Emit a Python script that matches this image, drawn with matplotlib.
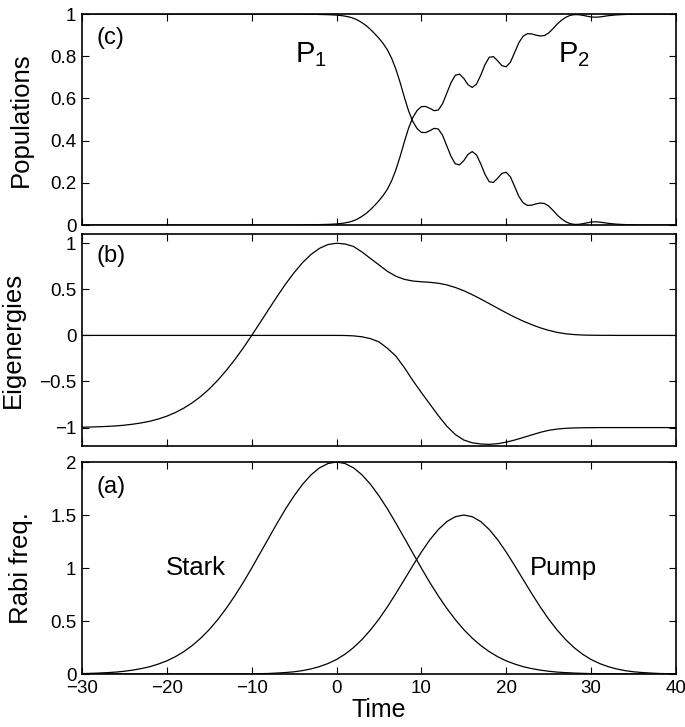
import numpy as np
import matplotlib
matplotlib.use("Agg")
import matplotlib.pyplot as plt
from matplotlib.ticker import FuncFormatter

plt.rcParams["font.family"] = ["Liberation Sans", "DejaVu Sans"]
plt.rcParams["mathtext.default"] = "regular"

# =====================================================
# DATA
# =====================================================

time = list(range(-30, 41))

stark = [0.004, 0.006, 0.009, 0.013, 0.018, 0.026, 0.037, 0.051, 0.069, 0.094,
         0.124, 0.163, 0.211, 0.269, 0.338, 0.419, 0.513, 0.619, 0.736, 0.863,
         0.999, 1.140, 1.282, 1.423, 1.558, 1.681, 1.790, 1.879, 1.945, 1.986,
         2.000,
         1.986, 1.945, 1.879, 1.790, 1.681, 1.558, 1.423, 1.282, 1.140, 0.999,
         0.863, 0.736, 0.619, 0.513, 0.419, 0.338, 0.269, 0.211, 0.163, 0.124,
         0.094, 0.069, 0.051, 0.037, 0.026, 0.018, 0.013, 0.009, 0.006, 0.004,
         0.003, 0.002, 0.001, 0.001, 0.0, 0.0, 0.0, 0.0, 0.0, 0.0]

pump = [0.0, 0.0, 0.0, 0.0, 0.0, 0.0, 0.0, 0.0, 0.0, 0.0,
        0.0, 0.0, 0.0, 0.0, 0.0, 0.0, 0.0, 0.0, 0.0, 0.001,
        0.002, 0.003, 0.005, 0.009, 0.014, 0.021, 0.032, 0.048, 0.070, 0.099,
        0.137,
        0.187, 0.249, 0.325, 0.415, 0.518, 0.634, 0.760, 0.891, 1.023, 1.150,
        1.266, 1.363, 1.438, 1.484, 1.500, 1.484, 1.438, 1.363, 1.266, 1.150,
        1.023, 0.891, 0.760, 0.634, 0.518, 0.415, 0.325, 0.249, 0.187, 0.137,
        0.099, 0.070, 0.048, 0.032, 0.021, 0.014, 0.009, 0.005, 0.003, 0.002]

e_upper = [-0.996, -0.994, -0.991, -0.987, -0.982, -0.974, -0.963, -0.949, -0.931, -0.907,
           -0.876, -0.837, -0.789, -0.731, -0.662, -0.581, -0.487, -0.381, -0.264, -0.137,
           -0.001, 0.140, 0.282, 0.423, 0.558, 0.681, 0.790, 0.879, 0.945, 0.986,
           1.000,
           0.992, 0.965, 0.905, 0.835, 0.765, 0.695, 0.642, 0.608, 0.590, 0.582,
           0.576, 0.566, 0.548, 0.520, 0.485, 0.442, 0.395, 0.345, 0.295, 0.245,
           0.198, 0.155, 0.117, 0.083, 0.055, 0.033, 0.018, 0.009, 0.004, 0.002,
           0.001, 0.001, 0.0, 0.0, 0.0, 0.0, 0.0, 0.0, 0.0, 0.0]

e_lower = [0.0, 0.0, 0.0, 0.0, 0.0, 0.0, 0.0, 0.0, 0.0, 0.0,
           0.0, 0.0, 0.0, 0.0, 0.0, 0.0, 0.0, 0.0, 0.0, 0.0,
           0.0, 0.0, 0.0, 0.0, 0.0, 0.0, 0.0, 0.0, 0.0, 0.0,
           0.0,
           -0.001, -0.005, -0.015, -0.035, -0.070, -0.140, -0.225, -0.350, -0.490, -0.620,
           -0.745, -0.870, -0.985, -1.075, -1.135, -1.165, -1.178, -1.182, -1.175, -1.158,
           -1.135, -1.108, -1.080, -1.052, -1.030, -1.016, -1.008, -1.004, -1.002, -1.001,
           -1.0, -1.0, -1.0, -1.0, -1.0, -1.0, -1.0, -1.0, -1.0, -1.0]

time_pop = [-30, -20, -10, -5, -3, -2, -1,
            0, 0.5, 1, 1.5, 2, 2.5, 3, 3.5, 4, 4.5, 5, 5.5, 6, 6.5, 7, 7.5,
            8, 8.5, 9, 9.5, 10, 10.5, 11, 11.5, 12, 12.5, 13, 13.5, 14, 14.5,
            15, 15.5, 16, 16.5, 17, 17.5, 18, 18.5, 19, 19.5, 20, 20.5, 21, 21.5,
            22, 22.5, 23, 23.5, 24, 24.5, 25, 25.5, 26, 26.5, 27, 27.5, 28, 28.5,
            29, 29.5, 30, 30.5, 31, 31.5, 32, 33, 34, 35, 36, 38, 40]

pop_1 = [1.0, 1.0, 1.0, 1.0, 0.999, 0.998, 0.997,
         0.995, 0.993, 0.990, 0.986, 0.980, 0.971, 0.959, 0.945, 0.927, 0.907, 0.885, 0.860, 0.830, 0.790, 0.738, 0.675,
         0.605, 0.540, 0.490, 0.457, 0.439, 0.438, 0.447, 0.458, 0.455, 0.425, 0.375, 0.325, 0.290, 0.285,
         0.305, 0.335, 0.348, 0.332, 0.290, 0.240, 0.205, 0.202, 0.222, 0.245, 0.250, 0.228, 0.182, 0.135,
         0.105, 0.093, 0.094, 0.100, 0.104, 0.102, 0.090, 0.070, 0.048, 0.030, 0.016, 0.007, 0.003, 0.003,
         0.006, 0.010, 0.014, 0.015, 0.014, 0.011, 0.008, 0.004, 0.002, 0.001, 0.0, 0.0, 0.0]

pop_2 = [0.0, 0.0, 0.0, 0.0, 0.001, 0.002, 0.003,
         0.005, 0.007, 0.010, 0.014, 0.020, 0.029, 0.041, 0.055, 0.073, 0.093, 0.115, 0.140, 0.170, 0.210, 0.262, 0.325,
         0.395, 0.460, 0.510, 0.543, 0.561, 0.562, 0.553, 0.542, 0.545, 0.575, 0.625, 0.675, 0.710, 0.715,
         0.695, 0.665, 0.652, 0.668, 0.710, 0.760, 0.795, 0.798, 0.778, 0.755, 0.750, 0.772, 0.818, 0.865,
         0.895, 0.907, 0.906, 0.900, 0.896, 0.898, 0.910, 0.930, 0.952, 0.970, 0.984, 0.993, 0.997, 0.997,
         0.994, 0.990, 0.986, 0.985, 0.986, 0.989, 0.992, 0.996, 0.998, 0.999, 1.0, 1.0, 1.0]

x_ticks = [-30, -20, -10, 0, 10, 20, 30, 40]

# =====================================================
# FIGURE
# =====================================================

fig = plt.figure(figsize=(6.85, 7.27), dpi=100)

ax_c = fig.add_axes([0.1197, 0.6905, 0.867, 0.2902])
ax_b = fig.add_axes([0.1197, 0.3865, 0.867, 0.2916])
ax_a = fig.add_axes([0.1197, 0.0729, 0.867, 0.2916])


def fmt(v, pos):
    return ("%g" % v).replace("-", "\u2212")


for ax in (ax_a, ax_b, ax_c):
    ax.set_xlim(-30, 40)
    ax.set_xticks(x_ticks)
    ax.tick_params(direction="in", top=True, right=True, length=5,
                   width=0.8, labelsize=13.5, pad=4)
    ax.yaxis.set_major_formatter(FuncFormatter(fmt))
    ax.xaxis.set_major_formatter(FuncFormatter(fmt))
    for s in ax.spines.values():
        s.set_linewidth(1.2)

ax_b.tick_params(labelbottom=False)
ax_c.tick_params(labelbottom=False)

# (c) populations
ax_c.plot(time_pop, pop_1, color="black", lw=0.9)
ax_c.plot(time_pop, pop_2, color="black", lw=0.9)
ax_c.set_ylim(0, 1)
ax_c.set_yticks([0, 0.2, 0.4, 0.6, 0.8, 1])
ax_c.set_ylabel("Populations", fontsize=18.5)
ax_c.yaxis.set_label_coords(-0.0825, 0.5)
ax_c.text(0.025, 0.886, "(c)", transform=ax_c.transAxes, fontsize=17,
          va="center", ha="left")
ax_c.text(-4.9, 0.77, "P$_1$", fontsize=21, ha="left", va="baseline")
ax_c.text(26.1, 0.77, "P$_2$", fontsize=21, ha="left", va="baseline")

# (b) eigenenergies
ax_b.plot(time, e_upper, color="black", lw=0.9)
ax_b.plot(time, e_lower, color="black", lw=0.9)
ax_b.set_ylim(-1.2, 1.1)
ax_b.set_yticks([-1, -0.5, 0, 0.5, 1])
ax_b.set_ylabel("Eigenergies", fontsize=18.5)
ax_b.yaxis.set_label_coords(-0.097, 0.5)
ax_b.text(0.025, 0.896, "(b)", transform=ax_b.transAxes, fontsize=17,
          va="center", ha="left")

# (a) Rabi frequencies
ax_a.plot(time, stark, color="black", lw=0.9)
ax_a.plot(time, pump, color="black", lw=0.9)
ax_a.set_ylim(0, 2)
ax_a.set_yticks([0, 0.5, 1, 1.5, 2])
ax_a.set_ylabel("Rabi freq.", fontsize=18.5)
ax_a.yaxis.set_label_coords(-0.0825, 0.5)
ax_a.set_xlabel("Time", fontsize=18, labelpad=1)
ax_a.text(0.025, 0.882, "(a)", transform=ax_a.transAxes, fontsize=17,
          va="center", ha="left")
ax_a.text(-20.1, 1.0, "Stark", fontsize=18.5, ha="left", va="center")
ax_a.text(22.8, 1.0, "Pump", fontsize=18.5, ha="left", va="center")

fig.savefig("out.png", dpi=100)
